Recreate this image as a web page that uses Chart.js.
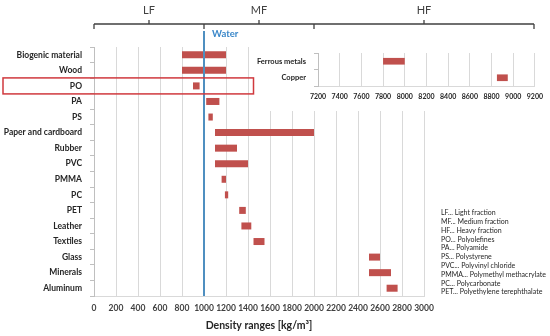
<!DOCTYPE html>
<html>
<head>
<meta charset="utf-8">
<script src="https://cdn.jsdelivr.net/npm/chart.js@4.4.1/dist/chart.umd.min.js"></script>
<style>
	body { margin: 0; background: #fff; }
	#wrap { position: relative; width: 550px; height: 336px; }
	#main { position: absolute; left: 0; top: 0; }
	#inset { position: absolute; left: 255px; top: 40px; background: #fff; }
</style>
</head>
<body>
<div id="wrap">
	<canvas id="main" width="550" height="336"></canvas>
	<canvas id="inset" width="295" height="71"></canvas>
</div>
<script>
// density ranges in kg/m³
const materials = ["Biogenic material", "Wood", "PO", "PA", "PS", "Paper and cardboard", "Rubber", "PVC",
	"PMMA", "PC", "PET", "Leather", "Textiles", "Glass", "Minerals", "Aluminum"];
const densityMin = [800, 800, 900, 1020, 1040, 1100, 1100, 1100, 1160, 1190, 1320, 1340, 1450, 2500, 2500, 2660];
const densityMax = [1200, 1200, 960, 1140, 1080, 2000, 1300, 1400, 1200, 1220, 1380, 1430, 1550, 2600, 2700, 2760];

const metals = ["Ferrous metals", "Copper"];
const metalMin = [7800, 8850];
const metalMax = [8000, 8950];

const fractions = ["LF", "MF", "HF"];
const fractionBounds = [0, 1000, 2000, 4000];
const waterDensity = 1000;
const highlighted = "PO";

const notes = [
	"LF... Light fraction",
	"MF... Medium fraction",
	"HF... Heavy fraction",
	"PO... Polyolefines",
	"PA... Polyamide",
	"PS... Polystyrene",
	"PVC... Polyvinyl chloride",
	"PMMA... Polymethyl methacrylate",
	"PC... Polycarbonate",
	"PET... Polyethylene terephthalate",
];

const FONT = "Lato, 'Open Sans', sans-serif";
const BAR = "#c0504d";
const GRID = "#d9d9d9";
const TEXT = "#262626";

const overlay = {
	id: "overlay",
	afterDatasetsDraw(chart) {
		const ctx = chart.ctx;
		const xs = chart.scales.x;
		const ys = chart.scales.y;
		const area = chart.chartArea;
		ctx.save();

		// water line
		const wx = xs.getPixelForValue(waterDensity);
		ctx.strokeStyle = "#4f8fc0";
		ctx.lineWidth = 2;
		ctx.beginPath();
		ctx.moveTo(wx, area.top - 16);
		ctx.lineTo(wx, area.bottom);
		ctx.stroke();
		ctx.fillStyle = "#3a87c9";
		ctx.font = "bold 9.5px " + FONT;
		ctx.textAlign = "left";
		ctx.textBaseline = "middle";
		ctx.fillText("Water", wx + 8, area.top - 13);

		// fraction bracket
		const by = area.top - 23;
		const bx = fractionBounds.map((v) => xs.getPixelForValue(v));
		ctx.strokeStyle = "#404040";
		ctx.lineWidth = 1.3;
		ctx.beginPath();
		ctx.moveTo(bx[0], by);
		ctx.lineTo(bx[bx.length - 1], by);
		bx.forEach((x) => {
			ctx.moveTo(x, by);
			ctx.lineTo(x, by + 5);
		});
		ctx.stroke();
		ctx.font = "11px " + FONT;
		ctx.fillStyle = "#404040";
		ctx.textAlign = "center";
		fractions.forEach((f, i) => {
			const mx = (bx[i] + bx[i + 1]) / 2;
			ctx.beginPath();
			ctx.moveTo(mx, by);
			ctx.lineTo(mx, by - 4);
			ctx.stroke();
			ctx.fillText(f, mx, by - 14);
		});

		// highlight box around PO
		const hy = ys.getPixelForValue(materials.indexOf(highlighted));
		ctx.strokeStyle = "#d0393e";
		ctx.lineWidth = 1.5;
		ctx.strokeRect(3, hy - 8, xs.getPixelForValue(1450) - 3, 16);

		// abbreviations
		ctx.fillStyle = TEXT;
		ctx.font = "7px " + FONT;
		ctx.textAlign = "left";
		notes.forEach((n, i) => ctx.fillText(n, 441, 213 + i * 8.8));

		ctx.restore();
	},
};

new Chart(document.getElementById("main"), {
	type: "bar",
	data: {
		labels: materials,
		datasets: [
			{
				data: materials.map((m, i) => [densityMin[i], densityMax[i]]),
				backgroundColor: BAR,
				borderWidth: 0,
				barPercentage: 0.9,
				categoryPercentage: 0.5,
			},
		],
	},
	options: {
		responsive: false,
		animation: false,
		indexAxis: "y",
		layout: { padding: { top: 47, right: 126, left: 0, bottom: 0 } },
		plugins: { legend: { display: false }, tooltip: { enabled: false } },
		scales: {
			x: {
				min: 0,
				max: 3000,
				ticks: {
					stepSize: 200, autoSkip: false, maxRotation: 0, padding: 7, color: "#404040",
					font: { family: FONT, size: 8.5, weight: "bold" },
					callback: (v) => String(v),
				},
				grid: { color: GRID, drawTicks: false },
				border: { color: GRID },
				title: { display: true, text: "Density ranges [kg/m³]", color: TEXT, font: { family: FONT, size: 10.5, weight: "bold" }, padding: { top: 10 } },
				afterFit(s) { s.height = 40; },
			},
			y: {
				ticks: { color: TEXT, padding: 8, font: { family: FONT, size: 8.5, weight: "bold" } },
				grid: { drawOnChartArea: false, tickLength: 4, color: "#bfbfbf" },
				border: { color: "#bfbfbf" },
				afterFit(s) { s.width = 94; },
			},
		},
	},
	plugins: [overlay],
});

new Chart(document.getElementById("inset"), {
	type: "bar",
	data: {
		labels: metals,
		datasets: [
			{
				data: metals.map((m, i) => [metalMin[i], metalMax[i]]),
				backgroundColor: BAR,
				borderWidth: 0,
				barPercentage: 0.9,
				categoryPercentage: 0.45,
			},
		],
	},
	options: {
		responsive: false,
		animation: false,
		indexAxis: "y",
		layout: { padding: { top: 13, right: 15, left: 0, bottom: 0 } },
		plugins: { legend: { display: false }, tooltip: { enabled: false } },
		scales: {
			x: {
				min: 7200,
				max: 9200,
				ticks: {
					stepSize: 200, autoSkip: false, maxRotation: 0, padding: 7, color: TEXT,
					font: { family: FONT, size: 7, weight: "bold" },
					callback: (v) => String(v),
				},
				grid: { color: GRID, drawTicks: false },
				border: { color: GRID },
				afterFit(s) { s.height = 25; },
			},
			y: {
				ticks: { color: TEXT, padding: 8, font: { family: FONT, size: 7.5, weight: "bold" } },
				grid: { drawOnChartArea: false, tickLength: 4, color: "#bfbfbf" },
				border: { color: "#bfbfbf" },
				afterFit(s) { s.width = 63; },
			},
		},
	},
});
</script>
</body>
</html>
